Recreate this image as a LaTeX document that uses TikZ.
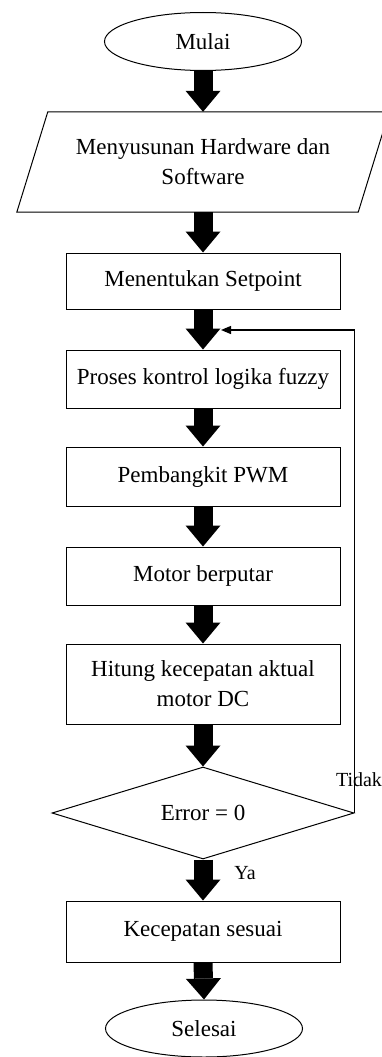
\documentclass[tikz,border=0pt]{standalone}
\usepackage{fontspec}
\setmainfont{Liberation Serif}
\usetikzlibrary{arrows.meta,shapes.geometric}
\begin{document}
\begin{tikzpicture}[x=1pt,y=-1pt,
  every node/.style={font=\fontsize{23}{30}\selectfont, inner sep=0pt},
  proc/.style={draw, line width=1pt, rectangle, minimum width=274pt},
  term/.style={draw, line width=1pt, ellipse, minimum width=197pt, minimum height=58pt},
  io/.style={rectangle, minimum width=341pt, minimum height=100pt, align=center},
  dec/.style={draw, line width=1pt, diamond, minimum width=302pt, minimum height=92pt, aspect=3.3},
  blk/.style={line width=19pt, -{Triangle[width=35pt,length=21pt,line width=0pt]}},
  thin/.style={line width=1.2pt, -{Triangle[width=8pt,length=10pt]}},
  outline/.style={line width=1pt, line join=miter},
  lbl/.style={font=\fontsize{20}{24}\selectfont}
]
\fill[white] (0,0) rectangle (382,1057);
\useasboundingbox (0,0) rectangle (382,1057);

\node[term] (mulai) at (203,41.5) {Mulai};
\node[io] (hw) at (203,162) {Menyusunan Hardware dan\\Software};
\draw[outline] ([xshift=-15.5pt]hw.south west) -- ([xshift=15.5pt]hw.north west)
   -- ([xshift=15.5pt]hw.north east) -- ([xshift=-15.5pt]hw.south east) -- cycle;
\node[proc, minimum height=56pt] (setp) at (203,281) {Menentukan Setpoint};
\node[proc, minimum height=58pt] (fuzzy) at (203,379) {Proses kontrol logika fuzzy};
\node[proc, minimum height=59pt] (pwm) at (203,476.5) {Pembangkit PWM};
\node[proc, minimum height=58pt] (motor) at (203,576) {Motor berputar};
\node[proc, minimum height=80pt, align=center] (hitung) at (203,684) {Hitung kecepatan aktual\\motor DC};
\node[dec] (err) at (203,813) {Error = 0};
\node[proc, minimum height=61pt] (sesuai) at (203,931.5) {Kecepatan sesuai};
\node[term, minimum height=57pt] (selesai) at (204,1028.5) {Selesai};

\coordinate (fb) at (221,330);

\draw[blk] (mulai.south) -- (hw.north);
\draw[blk] (hw.south) -- (setp.north);
\draw[blk] (setp.south) -- (fuzzy.north);
\draw[blk] (fuzzy.south) -- (pwm.north);
\draw[blk] (pwm.south) -- (motor.north);
\draw[blk] (motor.south) -- (hitung.north);
\draw[blk] (hitung.south) -- (err.north);
\draw[blk] (err.south) -- (sesuai.north);
\draw[blk] (sesuai.south) -- (selesai.north);

\draw[thin] (err.east) |- (fb);

\node[lbl] (tidak) at (359,780) {Tidak};
\node[lbl] (ya) at (245,873) {Ya};
\end{tikzpicture}
\end{document}
